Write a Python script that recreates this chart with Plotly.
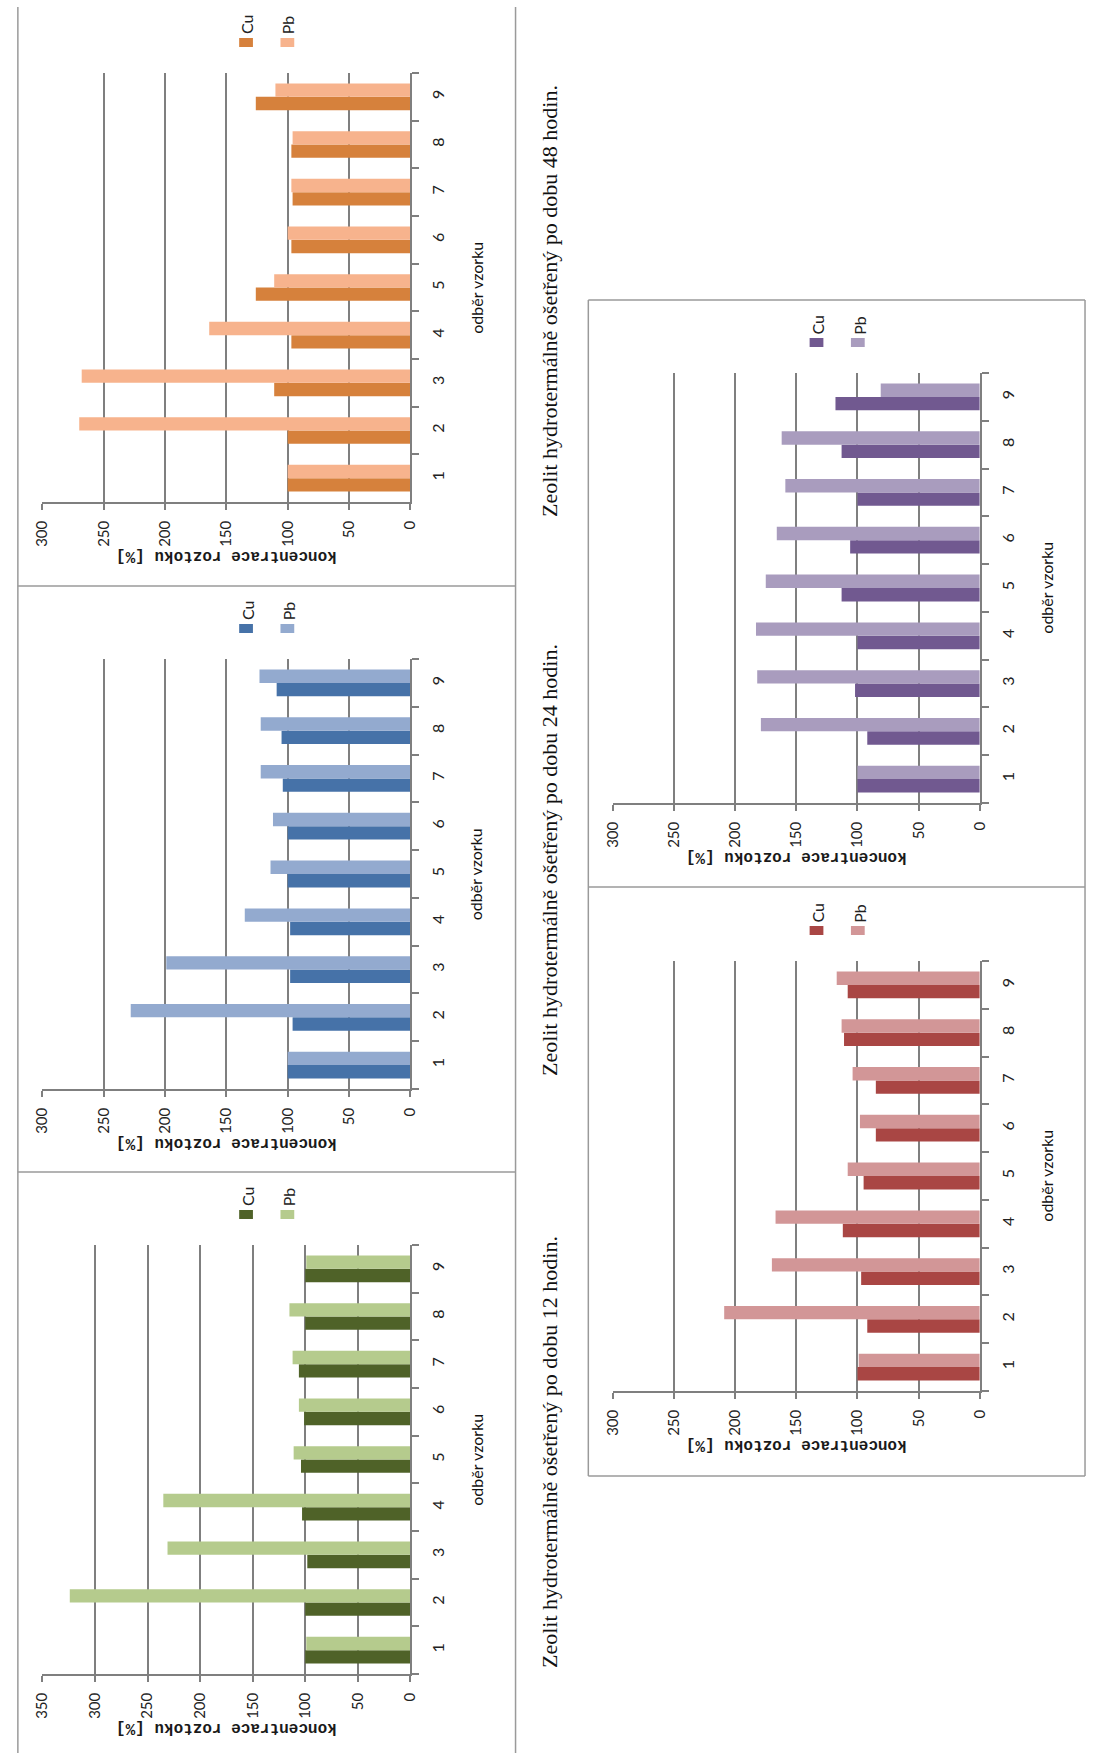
import plotly.graph_objects as go

W, H = 1094, 1753

# sample numbers (x axis of the original charts)
samples = ["1", "2", "3", "4", "5", "6", "7", "8", "9"]
value_ticks = [0, 50, 100, 150, 200, 250, 300, 350]

# solution concentration [%] per sample
cu_48h = [100, 100, 111, 97, 126, 97, 96, 97, 126]
pb_48h = [100, 270, 268, 164, 111, 100, 97, 96, 110]

cu_24h = [100, 96, 98, 98, 100, 100, 104, 105, 109]
pb_24h = [100, 228, 199, 135, 114, 112, 122, 122, 123]

cu_12h = [100, 100, 98, 103, 104, 101, 106, 100, 100]
pb_12h = [99, 324, 231, 235, 111, 106, 112, 115, 99]

cu_violet = [100, 92, 102, 100, 113, 106, 100, 113, 118]
pb_violet = [100, 179, 182, 183, 175, 166, 159, 162, 81]

cu_red = [100, 92, 97, 112, 95, 85, 85, 111, 108]
pb_red = [99, 209, 170, 167, 108, 98, 104, 113, 117]

captions = [
    "Zeolit hydrotermálně ošetřený po dobu 48 hodin.",
    "Zeolit hydrotermálně ošetřený po dobu 24 hodin.",
    "Zeolit hydrotermálně ošetřený po dobu 12 hodin.",
]
value_title = "koncentrace roztoku [%]"
sample_title = "odběr vzorku"
series_names = ["Cu", "Pb"]

# each chart is laid on its side: values grow to the left, samples go upwards
panels = [
    dict(cu=cu_48h, pb=pb_48h, c=("#D6813C", "#F7B38D"), l=33, r=407, t=73, b=502, vmax=300),
    dict(cu=cu_24h, pb=pb_24h, c=("#4672A8", "#93AACF"), l=33, r=407, t=659, b=1089, vmax=300),
    dict(cu=cu_12h, pb=pb_12h, c=("#4F6228", "#B5CB8D"), l=33, r=407, t=1245, b=1674, vmax=350),
    dict(cu=cu_violet, pb=pb_violet, c=("#715990", "#A99CBE"), l=613, r=986, t=373, b=803, vmax=300),
    dict(cu=cu_red, pb=pb_red, c=("#A94644", "#D29697"), l=613, r=986, t=961, b=1391, vmax=300),
]


def fx(px):
    return px / W


def fy(py):
    return 1 - py / H


GRID = "#7F7F7F"
TEXT = "#222222"
TICK_FONT = dict(family="Lato, Roboto, sans-serif", size=15, color=TEXT)

fig = go.Figure()
layout = {}
annotations = []
shapes = []

for i, p in enumerate(panels, start=1):
    xa, ya = f"x{i}", f"y{i}"
    for vals, col, name in zip((p["cu"], p["pb"]), p["c"], series_names):
        fig.add_trace(go.Bar(
            orientation="h", y=samples, x=vals, name=name,
            xaxis=xa, yaxis=ya, showlegend=False,
            marker=dict(color=col, line=dict(width=0)),
        ))
    layout[f"xaxis{i}"] = dict(
        domain=[fx(p["l"]), fx(p["r"])], anchor=ya,
        range=[p["vmax"], 0], tickvals=[v for v in value_ticks if v <= p["vmax"]],
        showgrid=True, gridcolor=GRID, gridwidth=1.5,
        showline=True, linecolor=GRID, linewidth=1.5, zeroline=False,
        ticks="outside", ticklen=6, tickcolor=GRID, tickwidth=1.5, tickangle=-90,
        ticklabelstandoff=5, tickfont=TICK_FONT,
    )
    layout[f"yaxis{i}"] = dict(
        domain=[fy(p["b"]), fy(p["t"])], anchor=xa, side="right",
        type="category", categoryorder="array", categoryarray=samples,
        showgrid=False, showline=True, linecolor=GRID, linewidth=1.5, zeroline=False,
        ticks="outside", tickson="boundaries", ticklen=7, tickcolor=GRID, tickwidth=1.5,
        tickangle=-90, ticklabelstandoff=13, tickfont=dict(TICK_FONT, size=16),
    )
    cx = (p["l"] + p["r"]) / 2
    cy = (p["t"] + p["b"]) / 2
    annotations.append(dict(
        x=fx(cx), y=fy(p["b"] + 54), xref="paper", yref="paper",
        text=f"<b>{value_title}</b>", textangle=180, showarrow=False,
        xanchor="center", yanchor="middle",
        font=dict(family="Liberation Mono, DejaVu Sans Mono, monospace", size=16, color="#1A1A1A"),
    ))
    annotations.append(dict(
        x=fx(p["r"] + 67), y=fy(cy), xref="paper", yref="paper",
        text=sample_title, textangle=-90, showarrow=False,
        xanchor="center", yanchor="middle",
        font=dict(family="Lato, Roboto, sans-serif", size=16, color="#111111"),
    ))
    # legend (Cu, Pb) drawn beside each other above the plot
    for k, (name, col) in enumerate(zip(series_names, p["c"])):
        lx = p["l"] + 207 + 42 * k
        shapes.append(dict(
            type="rect", xref="paper", yref="paper",
            x0=fx(lx - 7), x1=fx(lx + 7), y0=fy(p["t"] - 26), y1=fy(p["t"] - 35),
            fillcolor=col, line=dict(width=0),
        ))
        annotations.append(dict(
            x=fx(lx + 1), y=fy(p["t"] - 48), xref="paper", yref="paper",
            text=name, textangle=-90, showarrow=False,
            xanchor="center", yanchor="middle",
            font=dict(family="Lato, Roboto, sans-serif", size=16, color=TEXT),
        ))

# captions beside the left column
for text, cy in zip(captions, (301, 860, 1452)):
    annotations.append(dict(
        x=fx(548), y=fy(cy), xref="paper", yref="paper",
        text=text, textangle=-90, showarrow=False,
        xanchor="center", yanchor="middle",
        font=dict(family="Liberation Serif, Times New Roman, serif", size=22, color="#111111"),
    ))

# frame lines around the panels
BORDER = dict(color="#9A9A9A", width=1.5)


def hline(x0, x1, y):
    shapes.append(dict(type="line", xref="paper", yref="paper",
                       x0=fx(x0), x1=fx(x1), y0=fy(y), y1=fy(y), line=BORDER))


def vline(x, y0, y1):
    shapes.append(dict(type="line", xref="paper", yref="paper",
                       x0=fx(x), x1=fx(x), y0=fy(y0), y1=fy(y1), line=BORDER))


vline(8, 7, H)
vline(514, 7, H)
hline(8, 514, 586)
hline(8, 514, 1172)
vline(588, 300, 1476)
vline(1093, 300, 1476)
hline(588, 1093, 300)
hline(588, 1093, 887)
hline(588, 1093, 1476)

fig.update_layout(
    width=W, height=H, autosize=False,
    margin=dict(l=0, r=0, t=0, b=0),
    paper_bgcolor="white", plot_bgcolor="white",
    barmode="group", bargap=0.44, bargroupgap=0,
    annotations=annotations, shapes=shapes,
    **layout,
)

fig.write_html("out.html")
